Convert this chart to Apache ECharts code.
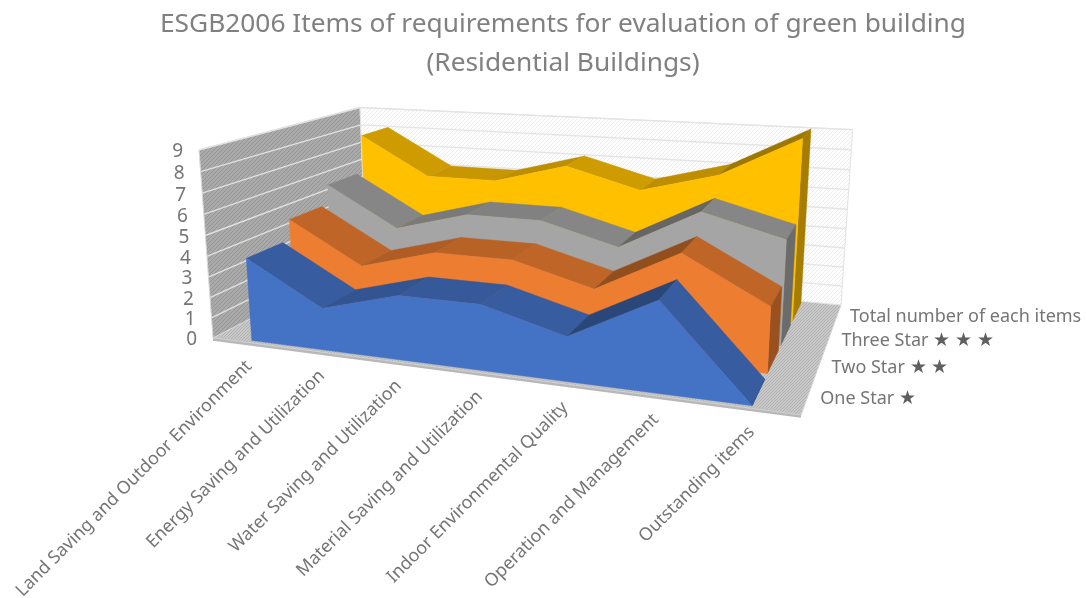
<!DOCTYPE html>
<html>
<head>
<meta charset="utf-8">
<style>html,body{margin:0;padding:0;background:#fff}#chart{width:1086px;height:598px}</style>
<script src="https://cdn.jsdelivr.net/npm/echarts@6/dist/echarts.min.js"></script>
</head>
<body>
<div id="chart"></div>
<script>
// Requirement counts per evaluation category
const categories = ['Land Saving and Outdoor Environment', 'Energy Saving and Utilization', 'Water Saving and Utilization',
  'Material Saving and Utilization', 'Indoor Environmental Quality', 'Operation and Management', 'Outstanding items'];
const oneStar   = [4, 2, 3, 3, 2, 4, 0];
const twoStar   = [5, 3, 4, 4, 3, 5, 3];
const threeStar = [6, 4, 5, 5, 4, 6, 5];
const totalItems = [8, 6, 6, 7, 6, 7, 9];
const valueTicks = [0, 1, 2, 3, 4, 5, 6, 7, 8, 9];
const seriesLabels = ['One Star ★', 'Two Star ★ ★', 'Three Star ★ ★ ★', 'Total number of each items'];
const seriesValues = [oneStar, twoStar, threeStar, totalItems];
const seriesColors = [[68, 114, 196], [237, 125, 49], [165, 165, 165], [255, 192, 0]];

const W = 1086, H = 598;
const FONT = '"Noto Sans", sans-serif';
const TEXT = '#757575';

// Perspective box: floor corners, plus the front-left top edge for the vertical axis
const A = [213, 338], B = [801, 415], C = [841, 305], D = [366, 259], E = [199, 150];
const det = (a, b, c, d) => a * d - b * c;
const dx1 = B[0] - C[0], dx2 = D[0] - C[0], sx = A[0] - B[0] + C[0] - D[0];
const dy1 = B[1] - C[1], dy2 = D[1] - C[1], sy = A[1] - B[1] + C[1] - D[1];
const den = det(dx1, dx2, dy1, dy2);
const g = det(sx, dx2, sy, dy2) / den, h = det(dx1, sx, dy1, sy) / den;
const m = {
  a: B[0] - A[0] + g * B[0], b: D[0] - A[0] + h * D[0], c: A[0],
  d: B[1] - A[1] + g * B[1], e: D[1] - A[1] + h * D[1], f: A[1]
};
const wz = -0.0406, wx = E[0] * (1 + wz) - A[0], wy = E[1] * (1 + wz) - A[1];
function project(u, v, w) {
  const z = g * u + h * v + 1 + wz * w;
  return [(m.a * u + m.b * v + m.c + wx * w) / z, (m.d * u + m.e * v + m.f + wy * w) / z];
}

// The hidden cartesian grid fills the canvas, so pixel fractions read as box fractions
function boxPoint(api, cat, val, v) {
  const p = api.coord([cat, val]);
  return project(p[0] / W, v, 1 - p[1] / H);
}
function wallPoint(api, u, val, v) {
  const p = api.coord([0, val]);
  return project(u, v, 1 - p[1] / H);
}

function stripes(bg, fg, size) {
  const c = document.createElement('canvas');
  c.width = c.height = size;
  const x = c.getContext('2d');
  x.fillStyle = bg; x.fillRect(0, 0, size, size);
  x.strokeStyle = fg; x.lineWidth = 1;
  for (let i = -size; i <= size; i += size) {
    x.beginPath(); x.moveTo(i, size); x.lineTo(i + size, 0); x.stroke();
  }
  return { image: c, repeat: 'repeat' };
}
const leftFill = stripes('#aaaaaa', '#959595', 4);
const backFill = stripes('#ffffff', '#ececec', 4);
const floorFill = stripes('#c8c8c8', '#b2b2b2', 3);

const poly = (points, fill, extra) => ({
  type: 'polygon', shape: { points },
  style: Object.assign({ fill, stroke: fill, lineWidth: 0.4 }, extra || {})
});
const seg = (p, q, stroke, lineWidth) => ({
  type: 'line', shape: { x1: p[0], y1: p[1], x2: q[0], y2: q[1] },
  style: { stroke, lineWidth }
});
const shade = (rgb, k) => `rgb(${rgb.map(c => Math.round(c * k)).join(',')})`;

// Walls, floor and gridlines
function renderBox(params, api) {
  const kids = [];
  const top = valueTicks[valueTicks.length - 1];
  const lf = wallPoint(api, 0, 0, 0), lft = wallPoint(api, 0, top, 0);
  const lb = wallPoint(api, 0, 0, 1), lbt = wallPoint(api, 0, top, 1);
  const rb = wallPoint(api, 1, 0, 1), rbt = wallPoint(api, 1, top, 1);
  const rf = wallPoint(api, 1, 0, 0);
  kids.push(poly([lb, rb, rf, lf], floorFill, { stroke: '#d4d4d4', lineWidth: 1 }));
  kids.push(poly([lf, lb, lbt, lft], leftFill, { stroke: '#d9d9d9', lineWidth: 1 }));
  kids.push(poly([lb, rb, rbt, lbt], backFill, { stroke: '#e2e2e2', lineWidth: 1 }));
  valueTicks.slice(1).forEach(t => {
    const a = wallPoint(api, 0, t, 0), b = wallPoint(api, 0, t, 1), c = wallPoint(api, 1, t, 1);
    kids.push(seg(a, b, '#e0e0e0', 1.4));
    kids.push(seg(b, c, '#e4e4e4', 1.4));
  });
  kids.push(seg([lf[0], lf[1] + 1.5], [rf[0], rf[1] + 1.5], '#b8b8b8', 2.5));
  return { type: 'group', children: kids };
}

// One extruded area: ribbon facets first, then end cap and front face on top
const slotFront = 0.02, slotBack = 0.225, slotStep = 0.25;
function renderArea(slot, values, rgb) {
  return function (params, api) {
    if (params.dataIndex !== 0) return null;
    const vf = slot * slotStep + slotFront, vb = slot * slotStep + slotBack;
    const n = values.length, kids = [];
    for (let i = 0; i < n - 1; i++) {
      const diff = values[i + 1] - values[i];
      const k = diff < 0 ? 0.81 : diff === 0 ? 0.78 : 0.86 - 0.12 * diff;
      kids.push(poly([boxPoint(api, i, values[i], vf), boxPoint(api, i + 1, values[i + 1], vf),
        boxPoint(api, i + 1, values[i + 1], vb), boxPoint(api, i, values[i], vb)], shade(rgb, k)));
    }
    kids.push(poly([boxPoint(api, n - 1, 0, vf), boxPoint(api, n - 1, values[n - 1], vf),
      boxPoint(api, n - 1, values[n - 1], vb), boxPoint(api, n - 1, 0, vb)], shade(rgb, 0.65)));
    const front = [boxPoint(api, 0, 0, vf)];
    values.forEach((y, i) => front.push(boxPoint(api, i, y, vf)));
    front.push(boxPoint(api, n - 1, 0, vf));
    kids.push(poly(front, shade(rgb, 1)));
    return { type: 'group', children: kids };
  };
}

// Axis text placed along the edges of the box
const label = (text, x, y, align, fontSize, rotation, rich) => ({
  type: 'text', x, y, rotation: rotation || 0,
  style: { text, x: 0, y: 0, align, verticalAlign: 'middle', fill: TEXT, fontSize, fontFamily: FONT, rich }
});
function renderCategoryLabel(params, api) {
  const i = params.dataIndex;
  const p = boxPoint(api, i, 0, 0);
  return label(categories[i], p[0] + 1, p[1] + 21, 'right', 17.8, Math.PI / 4);
}
function renderValueLabel(params, api) {
  const t = valueTicks[params.dataIndex];
  const p = wallPoint(api, 0, t, 0);
  return label(String(t), p[0] - 16, p[1] + 2, 'right', 19);
}
function renderSeriesLabel(params, api) {
  const i = params.dataIndex;
  const p = project(1, (i + 0.5) * slotStep, 0);
  const text = seriesLabels[i].replace(/★( ★)*/, s => `{star|${s}}`);
  return label(text, p[0] + 13, p[1] + 1, 'left', 18, 0, {
    star: { fontSize: 18.5, fill: '#5f5f5f', fontFamily: FONT }
  });
}

const series = [
  { type: 'custom', renderItem: renderBox, data: [[0, 0]], z: 1 }
];
for (let s = seriesValues.length - 1; s >= 0; s--) {
  series.push({
    type: 'custom', name: seriesLabels[s], renderItem: renderArea(s, seriesValues[s], seriesColors[s]),
    data: seriesValues[s].map((y, i) => [i, y]), z: 2 + (seriesValues.length - s)
  });
}
series.push({ type: 'custom', renderItem: renderCategoryLabel, data: categories.map((c, i) => [i, 0]), z: 10 });
series.push({ type: 'custom', renderItem: renderValueLabel, data: valueTicks.map(t => [0, t]), z: 10 });
series.push({ type: 'custom', renderItem: renderSeriesLabel, data: seriesLabels.map((c, i) => [i, 0]), z: 10 });
series.forEach(s => { s.silent = true; s.clip = false; });

const chart = echarts.init(document.getElementById('chart'), null, { renderer: 'canvas' });
chart.setOption({
  animation: false,
  backgroundColor: '#ffffff',
  title: {
    text: 'ESGB2006 Items of requirements for evaluation of green building\n(Residential Buildings)',
    left: 558, top: 0, textAlign: 'center',
    textStyle: { color: '#808080', fontSize: 26.3, fontWeight: 'normal', fontFamily: FONT, lineHeight: 39 }
  },
  grid: { left: 0, right: 0, top: 0, bottom: 0 },
  xAxis: { type: 'category', data: categories, boundaryGap: true, show: false },
  yAxis: { type: 'value', min: 0, max: 9, interval: 1, show: false },
  series
});
</script>
</body>
</html>
